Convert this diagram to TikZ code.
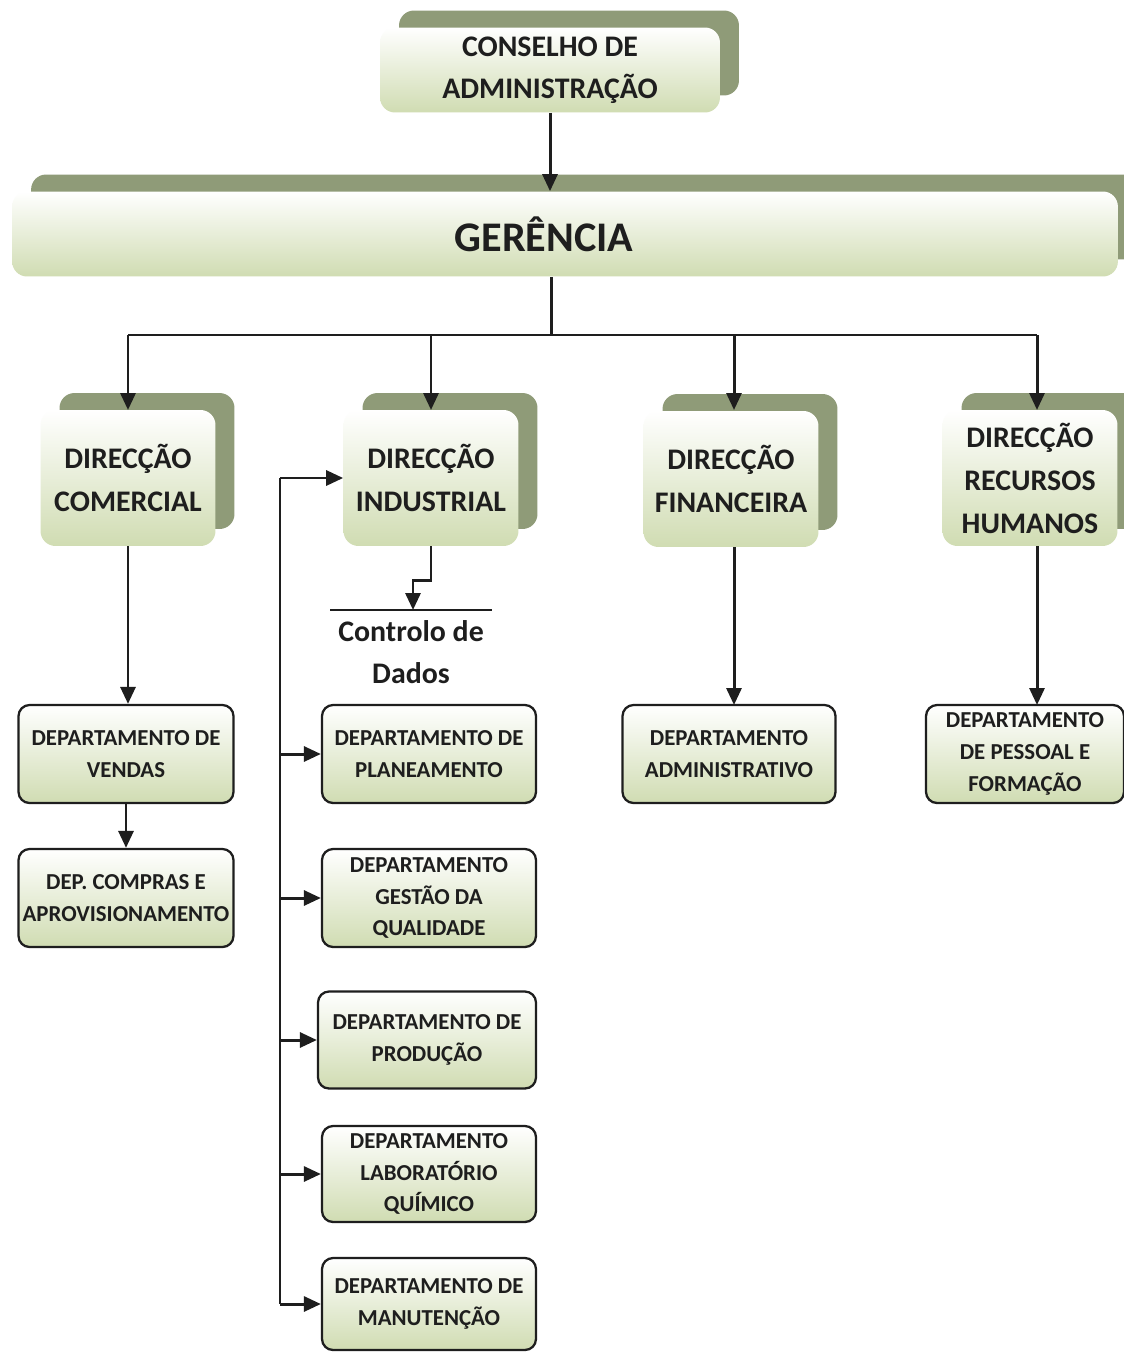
\documentclass[tikz,border=0pt]{standalone}
\usepackage{fontspec}
\setmainfont{Carlito}
\usetikzlibrary{shadows, arrows.meta, calc}
\definecolor{shadowgreen}{HTML}{8F9B78}
\definecolor{boxgreen}{HTML}{D0DCB2}
\definecolor{ink}{HTML}{1E1E1E}
\tikzset{
  topbox/.style={rounded corners=0.3cm, top color=white, bottom color=boxgreen, text=ink,
    copy shadow={shadow xshift=0.38cm, shadow yshift=0.34cm, fill=shadowgreen, draw=none},
    align=center, font=\bfseries, inner sep=0pt},
  dirbox/.style={topbox, minimum width=3.5cm, minimum height=2.72cm, font=\bfseries\fontsize{17}{24.5}\selectfont},
  deptbox/.style={draw=ink, line width=1.3pt, rounded corners=0.22cm, top color=white, bottom color=boxgreen,
    text=ink, align=center, font=\bfseries\fontsize{13}{18}\selectfont, minimum width=4.3cm, minimum height=1.96cm, inner sep=0pt},
  link/.style={draw=ink, line width=1.7pt, -{Triangle[length=0.34cm, width=0.3cm]}},
  wire/.style={draw=ink, line width=1.7pt}
}
\begin{document}
\begin{tikzpicture}[x=0.02cm, y=-0.02cm]
  \useasboundingbox[fill=white] (0,0) rectangle (1124,1352);
  \clip (0,0) rectangle (1124,1352);
  % top levels
  \node[topbox, minimum width=6.8cm, minimum height=1.7cm, font=\bfseries\fontsize{17}{24}\selectfont] (cons) at (550,70) {CONSELHO DE\\ADMINISTRAÇÃO};
  \node[topbox, minimum width=22.12cm, minimum height=1.7cm, font=\bfseries\fontsize{24}{28}\selectfont] (ger) at (565,234) {GERÊNCIA\hspace*{0.84cm}};
  \draw[link] (cons.south) -- (cons.south |- ger.north);
  % direccoes
  \node[dirbox] (dcom) at (128,478) {DIRECÇÃO\\COMERCIAL};
  \node[dirbox] (dind) at (431,478) {DIRECÇÃO\\INDUSTRIAL};
  \node[dirbox] (dfin) at (731,479) {DIRECÇÃO\\FINANCEIRA};
  \node[dirbox] (drh) at (1030,478) {DIRECÇÃO\\RECURSOS\\HUMANOS};
  \coordinate (hub) at (551,335);
  \draw[wire] (hub |- ger.south) -- (hub);
  \draw[wire] (128,335) -- (1037,335);
  \foreach \n/\x in {dcom/128, dind/431, dfin/734, drh/1037}
    \draw[link] (\x,335) -- (\x,410);
  % departamentos
  \node[deptbox] (vendas) at (126,754) {DEPARTAMENTO DE\\VENDAS};
  \node[deptbox] (compras) at (126,898) {DEP. COMPRAS E\\APROVISIONAMENTO};
  \node[deptbox, minimum width=4.28cm] (plan) at (429,754) {DEPARTAMENTO DE\\PLANEAMENTO};
  \node[deptbox, minimum width=4.28cm] (qual) at (429,898) {DEPARTAMENTO\\GESTÃO DA\\QUALIDADE};
  \node[deptbox, minimum width=4.36cm, minimum height=1.94cm] (prod) at (427,1040) {DEPARTAMENTO DE\\PRODUÇÃO};
  \node[deptbox, minimum width=4.28cm, minimum height=1.92cm] (lab) at (429,1174) {DEPARTAMENTO\\LABORATÓRIO\\QUÍMICO};
  \node[deptbox, minimum width=4.28cm, minimum height=1.84cm] (manut) at (429,1304) {DEPARTAMENTO DE\\MANUTENÇÃO};
  \node[deptbox, minimum width=4.26cm] (admin) at (729,754) {DEPARTAMENTO\\ADMINISTRATIVO};
  \node[deptbox, minimum width=3.96cm] (pessoal) at (1025,754) {DEPARTAMENTO\\DE PESSOAL E\\FORMAÇÃO};
  \draw[link] (dcom.south) -- (dcom.south |- vendas.north);
  \draw[link] (vendas.south) -- (vendas.south |- compras.north);
  \draw[link] (dfin.south -| 734,0) -- (734,705);
  \draw[link] (drh.south -| 1037,0) -- (1037,705);
  % controlo de dados
  \coordinate (ctrltop) at (413,610);
  \draw[wire, line width=1.2pt] (330,610) -- (492,610);
  \draw[link] (dind.south) -- ++(0,34) -| (ctrltop);
  \node[text=ink, font=\bfseries\fontsize{17}{24}\selectfont, align=center] (ctrl) at (411,652) {Controlo de\\Dados};
  % industrial bracket
  \coordinate (spine) at (280,478);
  \draw[wire] (spine) -- (spine |- manut);
  \draw[link] (spine) -- (dind.west);
  \foreach \n in {plan, qual, prod, lab, manut}
    \draw[link] (spine |- \n) -- (\n.west);
\end{tikzpicture}
\end{document}
